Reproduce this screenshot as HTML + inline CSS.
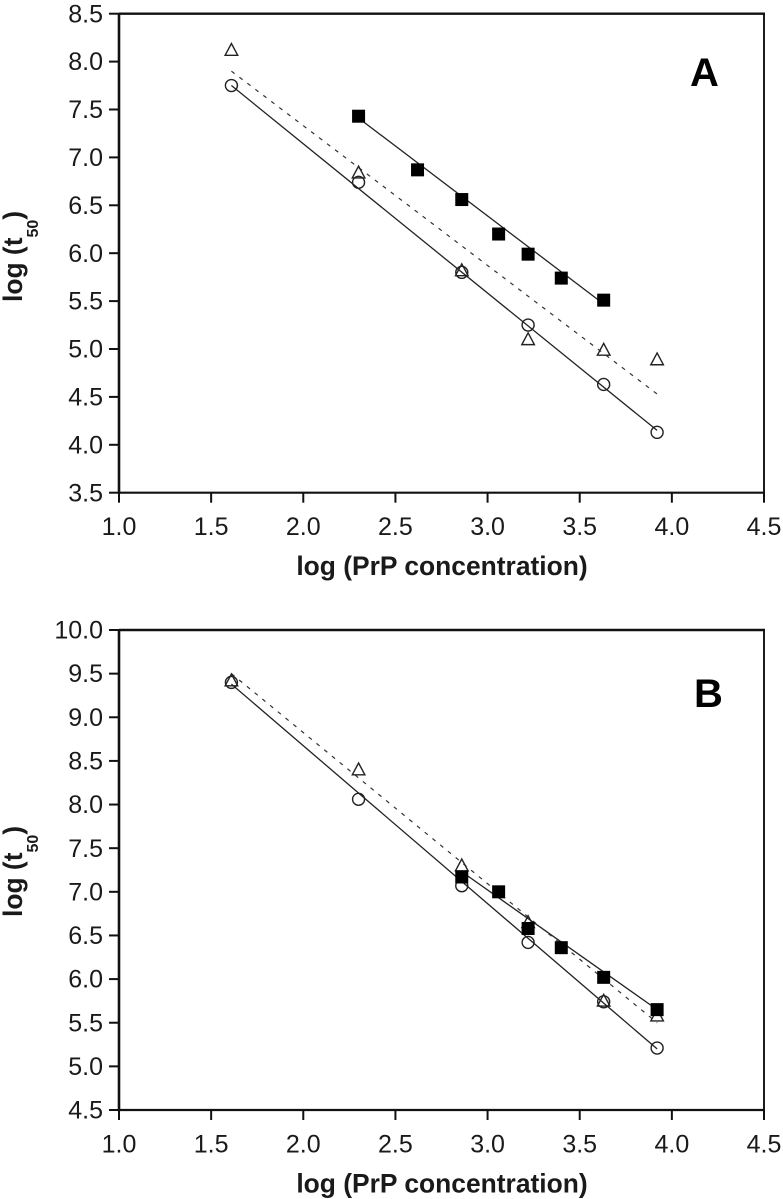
<!DOCTYPE html>
<html lang="en">
<head>
<meta charset="utf-8">
<title>log t50 versus log PrP concentration</title>
<style>
html,body{margin:0;padding:0;background:#fff;width:783px;height:1199px;overflow:hidden}
svg{display:block}
text{font-family:"Liberation Sans",sans-serif;fill:#1a1a1a}
.marks{filter:blur(.3px)}
</style>
</head>
<body>
<svg id="chart" xmlns="http://www.w3.org/2000/svg" width="783" height="1199" viewBox="0 0 783 1199"></svg>
<script>
// Shared x data
var xTicks = ["1.0", "1.5", "2.0", "2.5", "3.0", "3.5", "4.0", "4.5"];
var concentrations = [1.61, 2.30, 2.86, 3.22, 3.63, 3.92];

// Panel A data
var aYTicks = ["3.5", "4.0", "4.5", "5.0", "5.5", "6.0", "6.5", "7.0", "7.5", "8.0", "8.5"];
var aCircleY = [7.75, 6.74, 5.80, 5.25, 4.63, 4.13];
var aTriangleY = [8.12, 6.84, 5.82, 5.10, 4.99, 4.89];
var aSquareX = [2.30, 2.62, 2.86, 3.06, 3.22, 3.40, 3.63];
var aSquareY = [7.43, 6.87, 6.56, 6.20, 5.99, 5.74, 5.51];
var aCircleFitX = [1.61, 3.92];
var aCircleFitY = [7.75, 4.15];
var aTriangleFitX = [1.61, 3.92];
var aTriangleFitY = [7.90, 4.53];
var aSquareFitX = [2.30, 3.63];
var aSquareFitY = [7.41, 5.47];

// Panel B data
var bYTicks = ["4.5", "5.0", "5.5", "6.0", "6.5", "7.0", "7.5", "8.0", "8.5", "9.0", "9.5", "10.0"];
var bCircleY = [9.40, 8.06, 7.07, 6.42, 5.74, 5.21];
var bTriangleY = [9.42, 8.40, 7.30, 6.65, 5.75, 5.58];
var bSquareX = [2.86, 3.06, 3.22, 3.40, 3.63, 3.92];
var bSquareY = [7.17, 7.00, 6.58, 6.36, 6.02, 5.65];
var bCircleFitX = [1.61, 3.92];
var bCircleFitY = [9.38, 5.20];
var bTriangleFitX = [1.61, 3.92];
var bTriangleFitY = [9.50, 5.50];
var bSquareFitX = [2.86, 3.92];
var bSquareFitY = [7.23, 5.65];

var NS = "http://www.w3.org/2000/svg";
var root = document.getElementById("chart");

function el(parent, tag, attrs) {
  var node = document.createElementNS(NS, tag);
  for (var k in attrs) node.setAttribute(k, attrs[k]);
  parent.appendChild(node);
  return node;
}

function drawPanel(cfg) {
  var group = el(root, "g", {});
  
  

  var xMin = parseFloat(xTicks[0]);
  var xMax = parseFloat(xTicks[xTicks.length - 1]);
  var yMin = parseFloat(cfg.yTicks[0]);
  var yMax = parseFloat(cfg.yTicks[cfg.yTicks.length - 1]);
  function sx(v) { return cfg.left + (v - xMin) / (xMax - xMin) * (cfg.right - cfg.left); }
  function sy(v) { return cfg.bottom - (v - yMin) / (yMax - yMin) * (cfg.bottom - cfg.top); }

  // Frame
  var frame = el(group, "g", {stroke: "#111", fill: "none"});
  
  
  el(frame, "line", {x1: cfg.left, y1: cfg.top, x2: cfg.left, y2: cfg.bottom + 1.2, "stroke-width": 2.6});
  el(frame, "line", {x1: cfg.left, y1: cfg.top, x2: cfg.right + 1, y2: cfg.top, "stroke-width": 2.4});
  el(frame, "line", {x1: cfg.right, y1: cfg.top, x2: cfg.right, y2: cfg.bottom, "stroke-width": 1.9});
  el(frame, "line", {x1: cfg.left, y1: cfg.bottom, x2: cfg.right + 1, y2: cfg.bottom, "stroke-width": 2.2});

  // X axis ticks and labels
  var xAxis = el(group, "g", {});
  
  
  xTicks.forEach(function (t) {
    var x = sx(parseFloat(t));
    var tick = el(xAxis, "line", {x1: x, y1: cfg.bottom, x2: x, y2: cfg.bottom + 10, stroke: "#111", "stroke-width": 2});
    
    
    var lab = el(xAxis, "text", {x: x, y: cfg.bottom + 42.5, "font-size": 25, "text-anchor": "middle"});
    
    
    lab.textContent = t;
  });

  // Y axis ticks and labels
  var yAxis = el(group, "g", {});
  
  
  cfg.yTicks.forEach(function (t) {
    var y = sy(parseFloat(t));
    var tick = el(yAxis, "line", {x1: cfg.left - 10, y1: y, x2: cfg.left, y2: y, stroke: "#111", "stroke-width": 2});
    
    
    var lab = el(yAxis, "text", {x: 103, y: y + 8.6, "font-size": 25, "text-anchor": "end"});
    
    
    lab.textContent = t;
  });

  // Axis titles
  var xTitle = el(group, "text", {x: 442, y: cfg.bottom + 82.5, "font-size": 26.4, "font-weight": "bold", "text-anchor": "middle"});
  
  
  xTitle.textContent = "log (PrP concentration)";

  var yTitle = el(group, "text", {transform: "translate(22 " + cfg.yTitleStart + ") rotate(-90)", "font-size": 26.4, "font-weight": "bold"});
  
  
  yTitle.appendChild(document.createTextNode("log (t"));
  var sub = el(yTitle, "tspan", {"font-size": 16, dy: 16});
  sub.textContent = "50";
  var close = el(yTitle, "tspan", {dy: -16});
  close.textContent = ")";

  // Panel letter
  var letter = el(group, "text", {x: cfg.letterX, y: cfg.letterY, "font-size": 40, "font-weight": "bold", style: "fill:#000"});
  
  
  letter.textContent = cfg.letter;

  var marks = el(group, "g", {"class": "marks"});
  
  

  // Fit lines
  var squareFit = el(marks, "line", {x1: sx(cfg.squareFitX[0]), y1: sy(cfg.squareFitY[0]), x2: sx(cfg.squareFitX[1]), y2: sy(cfg.squareFitY[1]), stroke: "#222", "stroke-width": 1.3});
  
  
  var triFit = el(marks, "line", {x1: sx(cfg.triangleFitX[0]), y1: sy(cfg.triangleFitY[0]), x2: sx(cfg.triangleFitX[1]), y2: sy(cfg.triangleFitY[1]), stroke: "#333", "stroke-width": 1.2, "stroke-dasharray": "4 6"});
  
  
  var circleFit = el(marks, "line", {x1: sx(cfg.circleFitX[0]), y1: sy(cfg.circleFitY[0]), x2: sx(cfg.circleFitX[1]), y2: sy(cfg.circleFitY[1]), stroke: "#222", "stroke-width": 1.3});
  
  

  // Triangles
  concentrations.forEach(function (c, i) {
    var x = sx(c), y = sy(cfg.triangleY[i]);
    var p = "M" + (x - 6.3) + " " + (y + 5.2) + "L" + x + " " + (y - 6.6) + "L" + (x + 6.3) + " " + (y + 5.2) + "Z";
    var tri = el(marks, "path", {d: p, fill: "none", stroke: "#222", "stroke-width": 1.4});
    
    
  });

  // Circles
  concentrations.forEach(function (c, i) {
    var circ = el(marks, "circle", {cx: sx(c), cy: sy(cfg.circleY[i]), r: 6, fill: "none", stroke: "#222", "stroke-width": 1.4});
    
    
  });

  // Squares
  cfg.squareX.forEach(function (c, i) {
    var sq = el(marks, "rect", {x: sx(c) - 6.5, y: sy(cfg.squareY[i]) - 6.5, width: 13, height: 13, fill: "#000"});
    
    
  });
}

drawPanel({
  id: "panel-a", letter: "A", letterX: 690, letterY: 86,
  left: 119, right: 764, top: 13.7, bottom: 492.7, yTitleStart: 302,
  yTicks: aYTicks, circleY: aCircleY, triangleY: aTriangleY,
  squareX: aSquareX, squareY: aSquareY,
  circleFitX: aCircleFitX, circleFitY: aCircleFitY,
  triangleFitX: aTriangleFitX, triangleFitY: aTriangleFitY,
  squareFitX: aSquareFitX, squareFitY: aSquareFitY
});

drawPanel({
  id: "panel-b", letter: "B", letterX: 694, letterY: 707,
  left: 119, right: 764, top: 630, bottom: 1110, yTitleStart: 917,
  yTicks: bYTicks, circleY: bCircleY, triangleY: bTriangleY,
  squareX: bSquareX, squareY: bSquareY,
  circleFitX: bCircleFitX, circleFitY: bCircleFitY,
  triangleFitX: bTriangleFitX, triangleFitY: bTriangleFitY,
  squareFitX: bSquareFitX, squareFitY: bSquareFitY
});
</script>
</body>
</html>
